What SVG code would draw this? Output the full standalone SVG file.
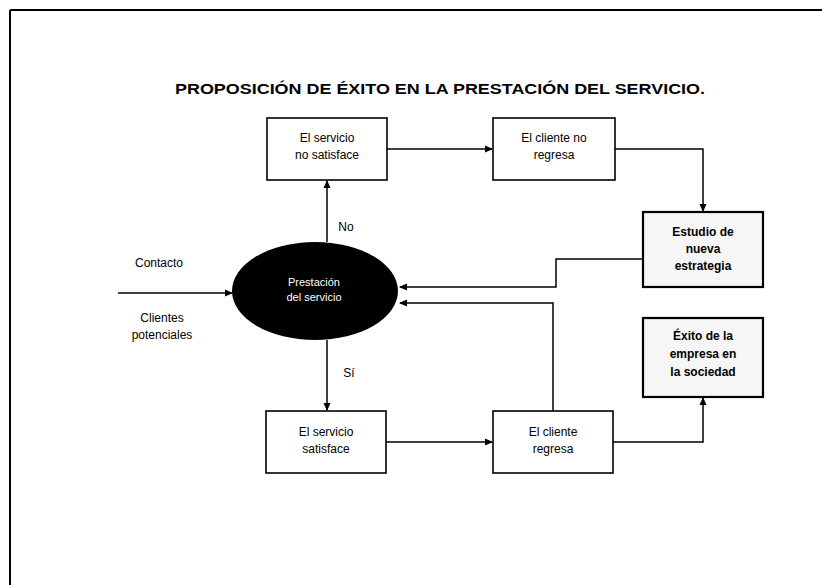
<svg xmlns="http://www.w3.org/2000/svg" width="822" height="585" viewBox="0 0 822 585">
<style>
.box{fill:#fff;stroke:#000;stroke-width:1.6}
.bbox{fill:#f6f6f6;stroke:#000;stroke-width:2.2}
.t{font-family:"Liberation Sans",Arial,sans-serif;font-size:12px;fill:#000;text-anchor:middle}
.tb{font-family:"Liberation Sans",Arial,sans-serif;font-size:12px;font-weight:bold;fill:#000;text-anchor:middle}
.tw{font-family:"Liberation Sans",Arial,sans-serif;font-size:11px;fill:#fff;text-anchor:middle}
.c{fill:none;stroke:#000;stroke-width:1.5}
</style>
<defs>
<marker id="ah" markerWidth="8" markerHeight="8" refX="7" refY="4" orient="auto" markerUnits="userSpaceOnUse">
<path d="M0,0.5 L8,4 L0,7.5 Z" fill="#000"/>
</marker>
</defs>
<rect width="822" height="585" fill="#fff"/>
<g id="frame">
<line x1="10" y1="10" x2="822" y2="10" stroke="#000" stroke-width="2"/>
<line x1="10" y1="10" x2="10" y2="585" stroke="#000" stroke-width="2"/>
</g>
<text id="title" x="440" y="94" font-family="Liberation Sans,Arial,sans-serif" font-size="14" font-weight="bold" text-anchor="middle" textLength="530" lengthAdjust="spacingAndGlyphs">PROPOSICIÓN DE ÉXITO EN LA PRESTACIÓN DEL SERVICIO.</text>
<g id="connectors">
<line class="c" x1="118" y1="293" x2="232" y2="293" marker-end="url(#ah)"/>
<line class="c" x1="327" y1="242" x2="327" y2="181" marker-end="url(#ah)"/>
<line class="c" x1="327" y1="340" x2="327" y2="410" marker-end="url(#ah)"/>
<line class="c" x1="387" y1="149" x2="492" y2="149" marker-end="url(#ah)"/>
<polyline class="c" points="615,149 703,149 703,211" marker-end="url(#ah)"/>
<polyline class="c" points="642,259 556,259 556,287 400,287" marker-end="url(#ah)"/>
<polyline class="c" points="553,411 553,303 400,303" marker-end="url(#ah)"/>
<line class="c" x1="386" y1="442" x2="492" y2="442" marker-end="url(#ah)"/>
<polyline class="c" points="613,442 703,442 703,398" marker-end="url(#ah)"/>
<text class="t" x="346" y="231">No</text>
<text class="t" x="349" y="377">Sí</text>
<text class="t" x="159" y="267">Contacto</text>
<text class="t" x="162" y="322">Clientes</text>
<text class="t" x="162" y="339">potenciales</text>
</g>
<g id="n_ellipse">
<ellipse cx="315" cy="291" rx="83" ry="49" fill="#000"/>
<text class="tw" x="314" y="286">Prestación</text>
<text class="tw" x="314" y="301">del servicio</text>
</g>
<g id="n_nosatisface">
<rect class="box" x="267" y="118" width="120" height="62"/>
<text class="t" x="327" y="142">El servicio</text>
<text class="t" x="327" y="159">no satisface</text>
</g>
<g id="n_noregresa">
<rect class="box" x="493" y="118" width="122" height="62"/>
<text class="t" x="554" y="142">El cliente no</text>
<text class="t" x="554" y="159">regresa</text>
</g>
<g id="n_estudio">
<rect class="bbox" x="643" y="212" width="120" height="75"/>
<text class="tb" x="703" y="236">Estudio de</text>
<text class="tb" x="703" y="253">nueva</text>
<text class="tb" x="703" y="270">estrategia</text>
</g>
<g id="n_exito">
<rect class="bbox" x="643" y="318" width="120" height="79"/>
<text class="tb" x="703" y="340">Éxito de la</text>
<text class="tb" x="703" y="358">empresa en</text>
<text class="tb" x="703" y="376">la sociedad</text>
</g>
<g id="n_satisface">
<rect class="box" x="266" y="411" width="120" height="62"/>
<text class="t" x="326" y="436">El servicio</text>
<text class="t" x="326" y="453">satisface</text>
</g>
<g id="n_regresa">
<rect class="box" x="493" y="411" width="120" height="62"/>
<text class="t" x="553" y="436">El cliente</text>
<text class="t" x="553" y="453">regresa</text>
</g>
</svg>
